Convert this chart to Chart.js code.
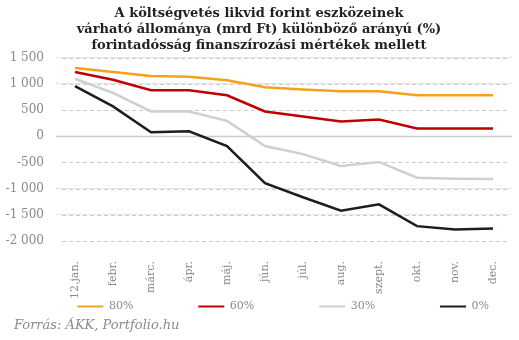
<!DOCTYPE html>
<html>
<head>
<meta charset="utf-8">
<script src="https://cdn.jsdelivr.net/npm/chart.js@4"></script>
<style>
  body { margin: 0; background: #fff; }
  #wrap { position: relative; width: 519px; height: 340px; }
  #source { position: absolute; left: 14px; top: 317px; font: italic 13px "DejaVu Serif", serif; color: #8a8a8a; }
</style>
</head>
<body>
<div id="wrap">
  <canvas id="chart" width="519" height="340"></canvas>
  <div id="source">Forrás: ÁKK, Portfolio.hu</div>
</div>
<script>
const months = ['12.jan.', 'febr.', 'márc.', 'ápr.', 'máj.', 'jún.', 'júl.', 'aug.', 'szept.', 'okt.', 'nov.', 'dec.'];
const share80 = [1303, 1227, 1150, 1137, 1072, 937, 893, 860, 860, 783, 783, 783];
const share60 = [1227, 1080, 880, 880, 783, 475, 378, 282, 320, 147, 147, 147];
const share30 = [1099, 829, 475, 475, 295, -187, -341, -567, -490, -791, -810, -817];
const share0 = [957, 571, 77, 96, -187, -895, -1165, -1421, -1300, -1716, -1782, -1762];
const seriesLabels = ['80%', '60%', '30%', '0%'];

const fmt = v => {
    const s = Math.abs(v).toString().replace(/\B(?=(\d{3})+(?!\d))/g, ' ');
    return (v < 0 ? '-' : '') + s;
};

const ctx = document.getElementById('chart').getContext('2d');
new Chart(ctx, {
    type: 'line',
    data: {
        labels: months,
        datasets: [
            { label: seriesLabels[0], data: share80, borderColor: '#f4a11c', backgroundColor: '#f4a11c' },
            { label: seriesLabels[1], data: share60, borderColor: '#c00000', backgroundColor: '#c00000' },
            { label: seriesLabels[2], data: share30, borderColor: '#cfcfcf', backgroundColor: '#cfcfcf' },
            { label: seriesLabels[3], data: share0, borderColor: '#231a1c', backgroundColor: '#231a1c' }
        ]
    },
    options: {
        responsive: false,
        animation: false,
        layout: { padding: { left: 6, right: 7, top: 5, bottom: 18 } },
        elements: {
            point: { radius: 0 },
            line: { borderWidth: 2.5, tension: 0 }
        },
        plugins: {
            title: {
                display: true,
                text: ['A költségvetés likvid forint eszközeinek', 'várható állománya (mrd Ft) különböző arányú (%)', 'forintadósság finanszírozási mértékek mellett'],
                color: '#222',
                font: { family: '"DejaVu Serif", serif', size: 13, weight: 'bold', lineHeight: 1.25 },
                padding: { top: 0, bottom: 4 }
            },
            legend: {
                position: 'bottom',
                align: 'end',
                labels: {
                    boxWidth: 26,
                    boxHeight: 2,
                    padding: 2,
                    color: '#8a8a8a',
                    font: { family: '"DejaVu Serif", serif', size: 11 },
                    // widen the entries so the keys sit far apart like the original
                    generateLabels: chart => Chart.defaults.plugins.legend.labels.generateLabels(chart)
                        .map((item, i) => ({ ...item, lineWidth: 0, text: item.text + '\u00a0'.repeat(i < 3 ? 18 : 6) }))
                }
            },
            tooltip: { enabled: false }
        },
        scales: {
            x: {
                offset: true,
                afterFit: s => { s.height = 58; },
                grid: { display: false },
                border: { display: false },
                ticks: {
                    minRotation: 90, maxRotation: 90, padding: 12,
                    color: '#8a8a8a',
                    font: { family: '"DejaVu Serif", serif', size: 11 }
                }
            },
            y: {
                min: -2000, max: 1500,
                border: { display: false },
                afterFit: s => { s.width = 50; },
                grid: {
                    drawTicks: false,
                    color: '#cccccc'
                },
                ticks: {
                    stepSize: 500, padding: 12, autoSkip: false,
                    color: '#8a8a8a',
                    font: { family: '"DejaVu Serif", serif', size: 12 },
                    callback: v => fmt(v)
                }
            }
        }
    },
    plugins: [{
        id: 'dashedGrid',
        beforeDatasetsDraw(chart) {
            // cover the solid grid and redraw it dashed, zero line stays solid
            const { ctx, chartArea, scales: { y } } = chart;
            ctx.save();
            y.ticks.forEach(t => {
                const py = Math.round(y.getPixelForValue(t.value)) + 0.5;
                ctx.strokeStyle = '#fff';
                ctx.lineWidth = 2;
                ctx.setLineDash([]);
                ctx.beginPath();
                ctx.moveTo(chartArea.left - 2, py);
                ctx.lineTo(chartArea.right + 2, py);
                ctx.stroke();
                ctx.strokeStyle = '#cccccc';
                if (t.value === 0) {
                    ctx.lineWidth = 1.5;
                    ctx.beginPath();
                    ctx.moveTo(chartArea.left, py);
                    ctx.lineTo(chartArea.right, py);
                } else {
                    ctx.lineWidth = 1;
                    ctx.setLineDash([4, 3]);
                    ctx.beginPath();
                    ctx.moveTo(chartArea.left + 6, py);
                    ctx.lineTo(chartArea.right - 4, py);
                }
                ctx.stroke();
            });
            ctx.restore();
        }
    }]
});
</script>
</body>
</html>
